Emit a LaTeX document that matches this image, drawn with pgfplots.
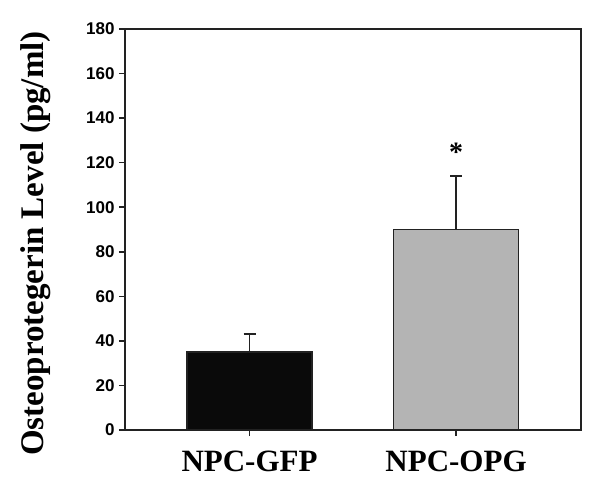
\documentclass[border=0pt]{standalone}
\usepackage{fontspec}
\setmainfont{Liberation Serif}
\newfontfamily\numfont{Liberation Sans}
\usepackage{pgfplots}
\pgfplotsset{compat=1.18}
\definecolor{barblack}{HTML}{0A0A0A}
\definecolor{bargray}{HTML}{B4B4B4}
\definecolor{edge}{HTML}{222222}

\begin{document}
\begin{tikzpicture}
  \path (0,0) rectangle (600bp,498bp);
  \begin{axis}[at={(125bp,68bp)}, anchor=south west, scale only axis,
      width=456bp, height=401bp,
      xmin=0.397, xmax=2.605, ymin=0, ymax=180,
      axis line style={line width=1.8bp, edge},
      xtick={1,2}, xticklabels={NPC-GFP,NPC-OPG},
      ytick={0,20,...,180},
      tick align=outside, major tick length=6bp,
      tick style={line width=1.5bp, edge},
      xtick pos=bottom, ytick pos=left,
      /pgf/number format/assume math mode=true,
      yticklabel style={font=\numfont\bfseries\fontsize{17bp}{17bp}\selectfont, xshift=-1bp},
      xticklabel style={font=\bfseries\fontsize{31bp}{31bp}\selectfont, yshift=-11bp},
      ylabel={Osteoprotegerin Level (pg/ml)},
      every axis y label/.style={at={(axis description cs:-0.195,0.465)}, rotate=90, anchor=center,
        font=\bfseries\fontsize{33bp}{33bp}\selectfont},
      ybar, bar width=0.605, bar shift=0pt,
      error bars/error bar style={line width=1.5bp, edge},
      error bars/error mark options={rotate=90, mark size=6bp, line width=1.5bp, edge},
      clip=false]
    \addplot[fill=barblack, draw=edge, line width=1.5bp,
      error bars/.cd, y dir=plus, y explicit]
      coordinates {(1,35) +- (0,8)};
    \addplot[fill=bargray, draw=edge, line width=1.5bp,
      error bars/.cd, y dir=plus, y explicit]
      coordinates {(2,90) +- (0,24)};
    \node[font=\bfseries\fontsize{28bp}{28bp}\selectfont] at (axis cs:2,124.5) {*};
  \end{axis}
\end{tikzpicture}
\end{document}
